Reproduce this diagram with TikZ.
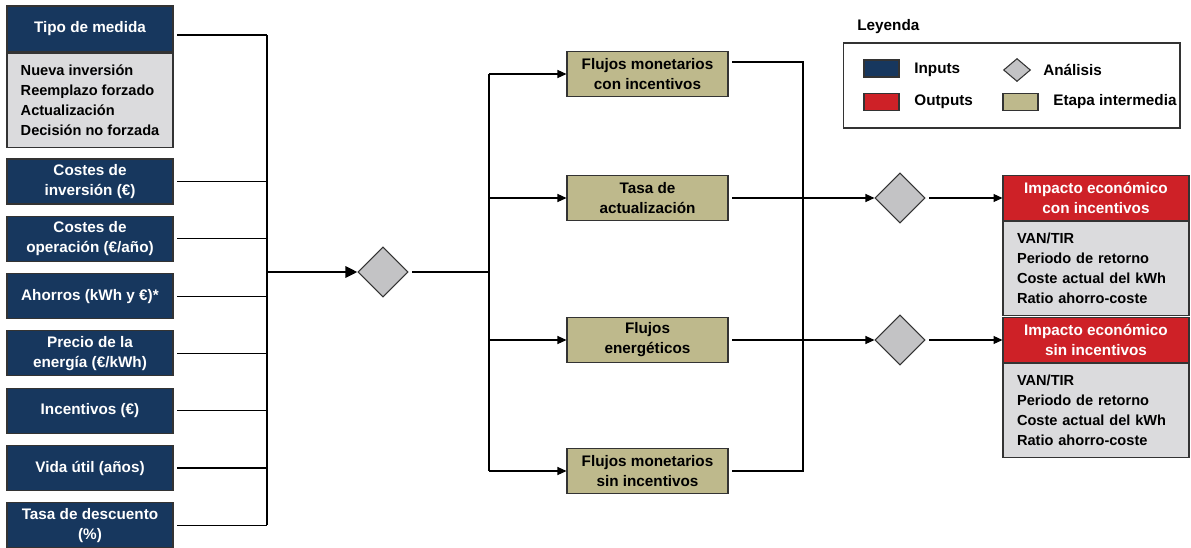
\documentclass[tikz,border=0pt]{standalone}
\usepackage{fontspec}
\setmainfont{Liberation Sans}
\usepackage{xcolor}
\definecolor{navy}{HTML}{17375E}
\definecolor{outred}{HTML}{CE2127}
\definecolor{etapa}{HTML}{BEB98C}
\definecolor{bodygray}{HTML}{DBDBDD}
\definecolor{diagray}{HTML}{C3C3C5}
\usepackage{tikz}
\usetikzlibrary{positioning,arrows.meta,shapes.geometric}

\tikzset{
  caja/.style={draw=black!80, line width=0.6pt, align=center, inner sep=2pt,
    font=\bfseries\fontsize{8.7}{11.4}\selectfont},
  inbox/.style={caja, fill=navy, text=white, minimum width=3.32cm, minimum height=0.9cm},
  midbox/.style={caja, fill=etapa, minimum width=3.22cm, minimum height=0.9cm},
  outbox/.style={caja, fill=outred, text=white, minimum width=3.72cm, minimum height=0.9cm},
  listbox/.style={caja, fill=bodygray, align=left, minimum height=1.88cm,
    font=\bfseries\fontsize{8.3}{11.4}\selectfont},
  analisis/.style={diamond, aspect=1, draw=black!80, fill=diagray, line width=0.6pt,
    minimum width=1cm, minimum height=1cm, inner sep=0pt},
  link/.style={line width=0.6pt},
  flecha/.style={link, -{Triangle[length=1.8mm,width=1.6mm]}},
  salida/.style={shorten <=2pt},
  swatch/.style={draw=black!80, line width=0.6pt, minimum width=0.7cm, minimum height=0.34cm, inner sep=0pt},
  legtext/.style={anchor=west, inner sep=0pt, font=\bfseries\fontsize{8.7}{11.4}\selectfont},
}

\begin{document}
\begin{tikzpicture}[x=0.02cm, y=-0.02cm]
  \useasboundingbox (0,0) rectangle (1191,548);

  % Inputs
  \node[inbox, minimum height=0.92cm] (tipo) at (90,29) {Tipo de medida};
  \node[listbox, minimum width=3.32cm, below=0pt of tipo] (tipolist)
    {Nueva inversión\\Reemplazo forzado\\Actualización\\Decisión no forzada};
  \foreach \n/\y/\txt in {inv/181.5/{Costes de\\inversión (€)},
                          op/238.8/{Costes de\\operación (€/año)},
                          ahorro/296.1/{Ahorros (kWh y €)*},
                          precio/353.4/{Precio de la\\energía (€/kWh)},
                          incent/410.7/{Incentivos (€)},
                          vida/468/{Vida útil (años)},
                          desc/525.3/{Tasa de descuento\\(\%)}}
    \node[inbox] (\n) at (90,\y) {\txt};

  % Bus to first analysis
  \coordinate (bus) at (267,272);
  \draw[link, salida] ([yshift=-0.12cm]tipo.east) -- ([yshift=-0.12cm]tipo.east -| bus);
  \foreach \n in {inv,op,ahorro,precio,incent,vida,desc}
    \draw[link, salida] (\n.east) -- (\n.east -| bus);
  \draw[link, line width=0.8pt] ([yshift=-0.12cm]tipo.east -| bus) -- (desc.east -| bus);

  \node[analisis] (d1) at (383,272) {};
  \draw[line width=1.6pt, -{Triangle[length=2.4mm,width=2.2mm]}] (bus) -- (d1.west);

  % Intermediate stages
  \node[midbox] (fm1) at (647.5,74) {Flujos monetarios\\con incentivos};
  \node[midbox] (tasa) at (647.5,198) {Tasa de\\actualización};
  \node[midbox] (fe) at (647.5,340) {Flujos\\energéticos};
  \node[midbox] (fm4) at (647.5,471) {Flujos monetarios\\sin incentivos};

  \coordinate (bus2) at (489,272);
  \draw[link, salida] (d1.east) -- (bus2);
  \draw[link, line width=0.8pt] (bus2 |- fm1.west) -- (bus2 |- fm4.west);
  \foreach \n in {fm1,tasa,fe,fm4}
    \draw[flecha] (bus2 |- \n.west) -- (\n.west);

  % Second analysis
  \node[analisis] (d2) at (900,198) {};
  \node[analisis] (d3) at (900,340) {};
  \coordinate (bus3) at (803,272);
  \draw[link, shorten <=2pt, shorten >=2pt] ([yshift=0.24cm]fm1.east) -| (bus3) |- (fm4.east);
  \draw[flecha, salida] (tasa.east) -- (d2.west);
  \draw[flecha, salida] (fe.east) -- (d3.west);

  % Outputs
  \node[outbox] (imp1) at (1096,198) {Impacto económico\\con incentivos};
  \node[listbox, text width=3.16cm, inner xsep=0.28cm, below=0pt of imp1] (imp1list)
    {VAN/TIR\\Periodo de retorno\\Coste actual del kWh\\Ratio ahorro-coste};
  \node[outbox] (imp2) at (1096,340) {Impacto económico\\sin incentivos};
  \node[listbox, text width=3.16cm, inner xsep=0.28cm, below=0pt of imp2] (imp2list)
    {VAN/TIR\\Periodo de retorno\\Coste actual del kWh\\Ratio ahorro-coste};
  \draw[flecha, salida] (d2.east) -- (imp1.west);
  \draw[flecha, salida] (d3.east) -- (imp2.west);

  % Legend
  \node[legtext] (leyenda) at (857,27) {Leyenda};
  \node[draw=black!80, line width=0.6pt, minimum width=6.74cm, minimum height=1.7cm] (legend) at (1011.5,85.5) {};
  \node[swatch, fill=navy] (swin) at (881.5,68.5) {};
  \node[legtext] (txin) at (914,70) {Inputs};
  \node[swatch, fill=outred] (swout) at (881.5,102) {};
  \node[legtext] (txout) at (914,102) {Outputs};
  \node[analisis, minimum width=0.54cm, minimum height=0.46cm] (dleg) at (1017,70) {};
  \node[legtext] (txan) at (1043,70) {Análisis};
  \node[swatch, fill=etapa] (swet) at (1020.5,102) {};
  \node[legtext] (txet) at (1053,102) {Etapa intermedia};
\end{tikzpicture}
\end{document}
